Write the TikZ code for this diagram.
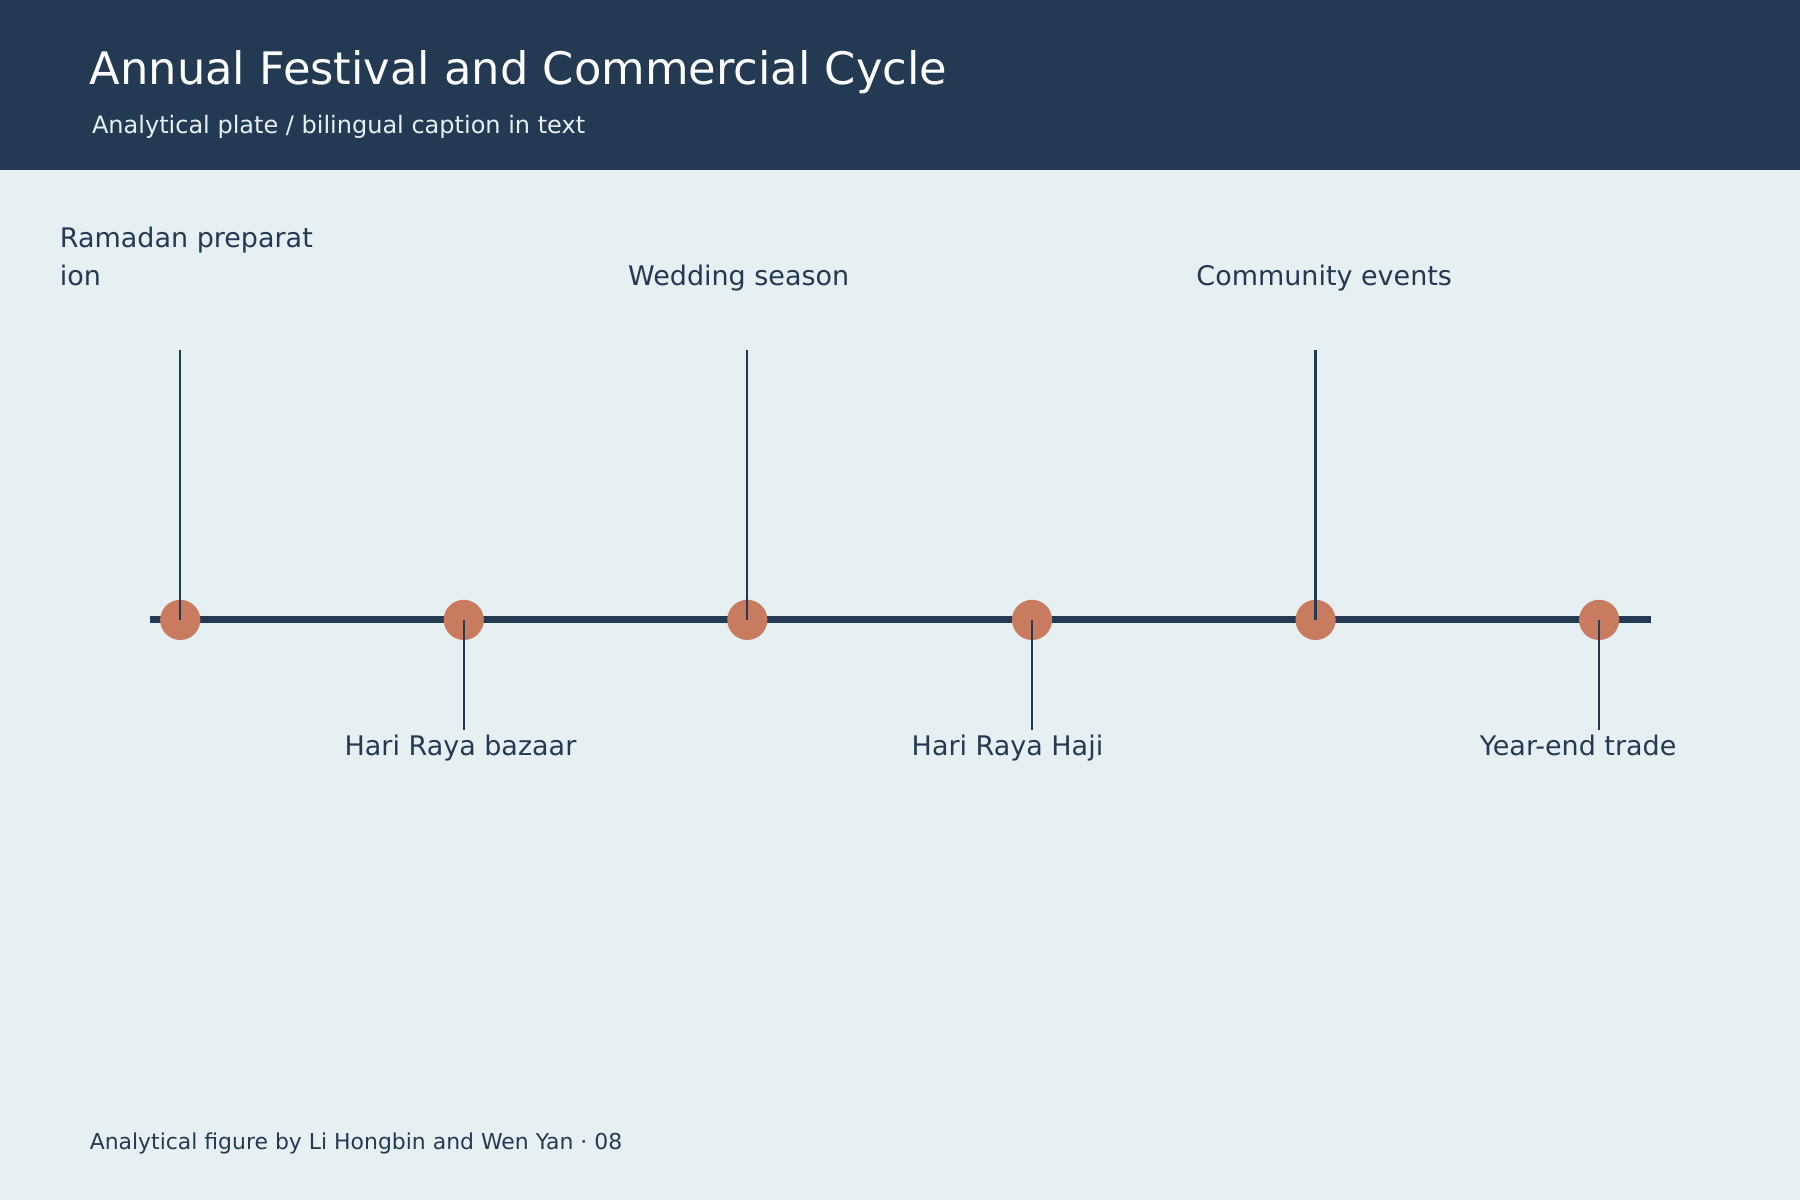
\documentclass[tikz,border=0pt]{standalone}
\usetikzlibrary{calc}
\usepackage{fontspec}
\setmainfont{DejaVu Sans}
\definecolor{navy}{HTML}{243A53}
\definecolor{bg}{HTML}{E6EFF2}
\definecolor{dot}{HTML}{C87B5E}
\begin{document}
\begin{tikzpicture}[x=1pt,y=-1pt,
  lab/.style={anchor=base west,text=navy,font=\fontsize{23.5}{33}\selectfont,inner sep=0pt,align=left},
  stem/.style={navy,line width=2pt},
  pt/.style={circle,fill=dot,minimum size=35pt,inner sep=0pt}]
\useasboundingbox (0,0) rectangle (1568,1045);
\fill[bg] (0,0) rectangle (1568,1045);
\fill[navy] (0,0) rectangle (1568,148);
\node[anchor=base west,text=white,font=\fontsize{39}{44}\selectfont,inner sep=0pt] (title) at (78,74) {Annual Festival and Commercial Cycle};
\node[anchor=base west,text=bg,font=\fontsize{20.9}{24}\selectfont,inner sep=0pt] (sub) at (80,116) {Analytical plate / bilingual caption in text};
\coordinate (a0) at (131,540); \coordinate (a1) at (1438,540);
\draw[navy,line width=6pt] (a0) -- (a1);
\foreach \i/\x in {1/157,2/404,3/651,4/899,5/1146,6/1393}{\node[pt] (p\i) at (\x,540) {};}
\foreach \i in {1,3,5}{\coordinate (t\i) at ($(p\i)+(0,-235)$);}
\foreach \i in {2,4,6}{\coordinate (b\i) at ($(p\i)+(0,96)$);}
\foreach \i in {1,3,5}{\draw[stem] (p\i.center) -- (t\i);}
\foreach \i in {2,4,6}{\draw[stem] (p\i.center) -- (b\i);}
\node[lab] (l1) at (52,249) {Ramadan preparat\\ion};
\node[lab] (l3) at (547,249) {Wedding season};
\node[lab] (l5) at (1042,249) {Community events};
\node[lab] (l2) at (300,658) {Hari Raya bazaar};
\node[lab] (l4) at (794,658) {Hari Raya Haji};
\node[lab] (l6) at (1289,658) {Year-end trade};
\node[anchor=base west,text=navy,font=\fontsize{19.1}{22}\selectfont,inner sep=0pt] (foot) at (78,1001) {Analytical figure by Li Hongbin and Wen Yan · 08};
\end{tikzpicture}
\end{document}
